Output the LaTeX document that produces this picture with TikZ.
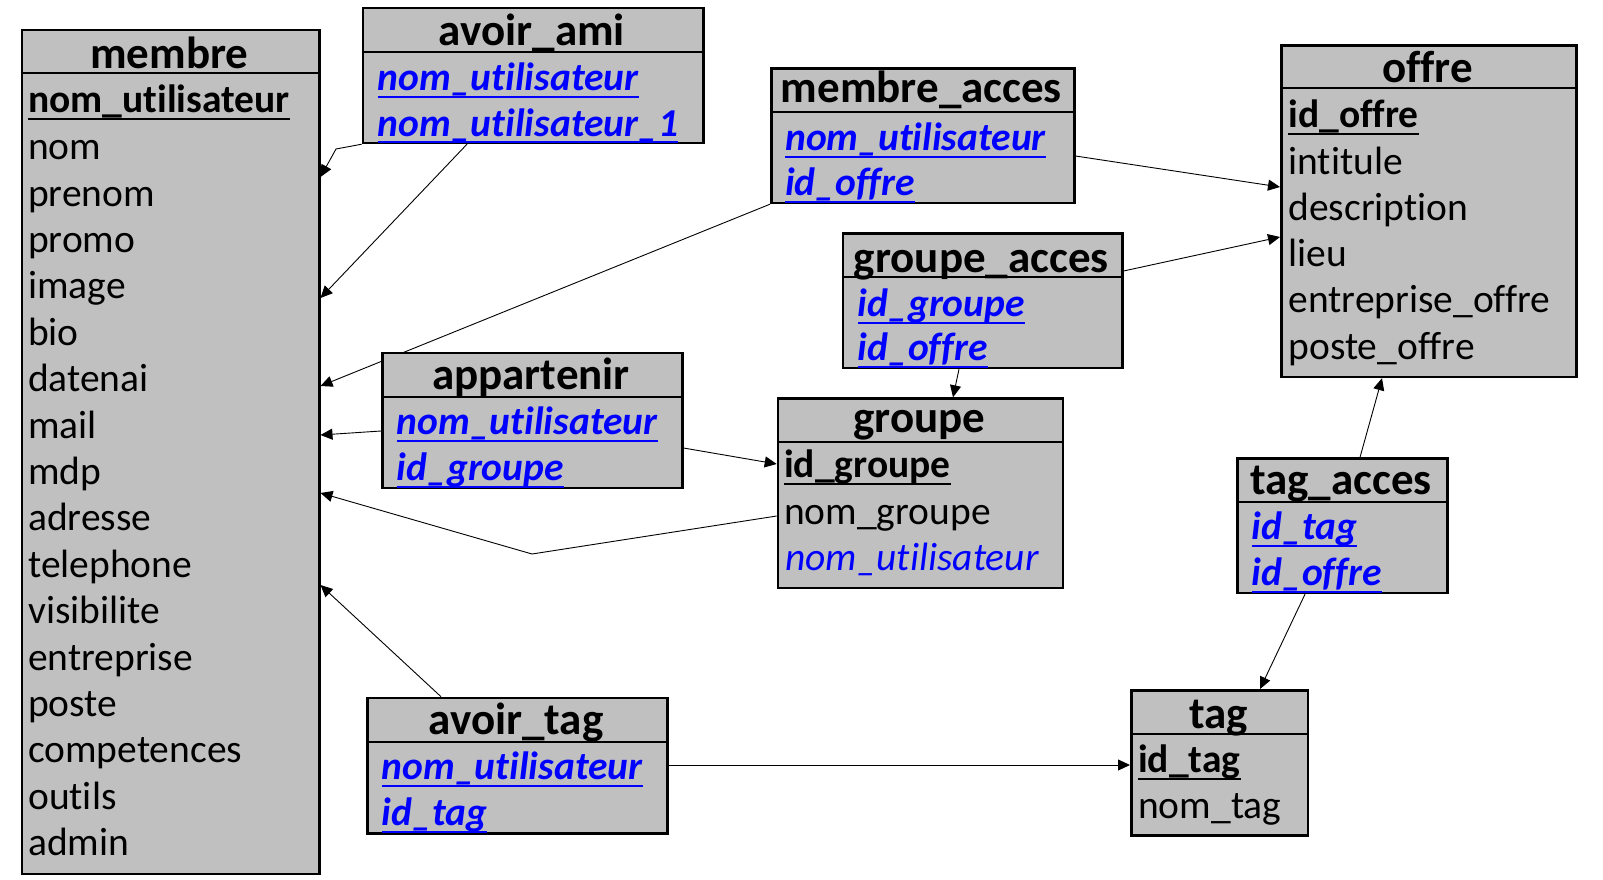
\documentclass[tikz,border=0pt]{standalone}
\usepackage{fontspec}
\setmainfont{Carlito}[RawFeature={-liga}]
\usetikzlibrary{arrows.meta,backgrounds}
\definecolor{boxgray}{RGB}{192,192,192}
\definecolor{keyblue}{RGB}{0,0,255}
\tikzset{
  tbl/.style={draw=black, line width=2.5pt, fill=boxgray, anchor=north west, inner sep=0pt},
  ttl/.style={font=\fontsize{45}{50}\selectfont\bfseries, anchor=base, inner sep=0pt},
  fld/.style={font=\fontsize{39.5}{46}\selectfont, anchor=base west, inner sep=0pt},
  pk/.style={fld, font=\fontsize{39.5}{46}\selectfont\bfseries},
  fk/.style={fld, font=\fontsize{39.5}{46}\selectfont\bfseries\itshape, text=keyblue},
  fkplain/.style={fld, font=\fontsize{39.5}{46}\selectfont\itshape, text=keyblue},
  sepline/.style={line width=2pt},
  ulin/.style={line width=2pt},
  link/.style={line width=0.9pt, -{Triangle[length=12pt,width=11pt]}},
}
% name, left, top, right, bottom, header y, title, title baseline
\newcommand\dbbox[8]{%
  \node[tbl, minimum width={#4-#2}, minimum height={#5-#3}] (#1) at (#2,#3) {};
  \draw[sepline] (#1.west |- 0,#6) -- (#1.east |- 0,#6);
  \node[ttl] (#1-t) at ({(#2+#4)/2},#8) {#7};
}
\newcommand\ulk[2]{\draw[ulin,#2] ([yshift=-6.5pt]#1.base west) -- ([yshift=-6.5pt]#1.base east);}
\begin{document}
\begin{tikzpicture}[x=1pt,y=-1pt]
\useasboundingbox (0,0) rectangle (1603,880);

% membre
\dbbox{membre}{20.7}{28.7}{318}{872.6}{73.3}{membre}{69}
\node[pk] (m0) at (28,113) {nom\_utilisateur}; \ulk{m0}{black}
\node[fld] (m1) at (28,159.6) {nom};
\node[fld] (m2) at (28,206) {prenom};
\node[fld] (m3) at (28,252.4) {promo};
\node[fld] (m4) at (28,298.8) {image};
\node[fld] (m5) at (28,345.2) {bio};
\node[fld] (m6) at (28,391.6) {datenai};
\node[fld] (m7) at (28,438) {mail};
\node[fld] (m8) at (28,484.4) {mdp};
\node[fld] (m9) at (28,530.8) {adresse};
\node[fld] (m10) at (28,577.2) {telephone};
\node[fld] (m11) at (28,623.6) {visibilite};
\node[fld] (m12) at (28,670) {entreprise};
\node[fld] (m13) at (28,716.4) {poste};
\node[fld] (m14) at (28,762.8) {competences};
\node[fld] (m15) at (28,809.2) {outils};
\node[fld] (m16) at (28,855.6) {admin};

% avoir_ami
\dbbox{avoirami}{361.7}{6.7}{702}{141.7}{51.7}{avoir\_ami}{46}
\node[fk] (aa1) at (377.7,91) {nom\_utilisateur}; \ulk{aa1}{keyblue}
\node[fk] (aa2) at (377.7,136) {nom\_utilisateur\_1}; \ulk{aa2}{keyblue}

% membre_acces
\dbbox{membreacces}{770}{67.3}{1073}{201.7}{111.7}{membre\_acces}{103}
\node[fk] (ma1) at (785,150.3) {nom\_utilisateur}; \ulk{ma1}{keyblue}
\node[fk] (ma2) at (785,195) {id\_offre}; \ulk{ma2}{keyblue}

% offre
\dbbox{offre}{1280}{44.3}{1575}{375.7}{87.7}{offre}{82.7}
\node[pk] (o0) at (1288.3,127.7) {id\_offre}; \ulk{o0}{black}
\node[fld] (o1) at (1288.3,174) {intitule};
\node[fld] (o2) at (1288.3,220.3) {description};
\node[fld] (o3) at (1288.3,266.6) {lieu};
\node[fld] (o4) at (1288.3,312.9) {entreprise\_offre};
\node[fld] (o5) at (1288.3,359.2) {poste\_offre};

% groupe_acces
\dbbox{groupeacces}{841.7}{232.3}{1121}{366.7}{277.3}{groupe\_acces}{272.7}
\node[fk] (ga1) at (857.7,316) {id\_groupe}; \ulk{ga1}{keyblue}
\node[fk] (ga2) at (857.7,360.5) {id\_offre}; \ulk{ga2}{keyblue}

% appartenir
\dbbox{appartenir}{381}{351.7}{681}{486.7}{396.7}{appartenir}{389.3}
\node[fk] (ap1) at (396.7,434.3) {nom\_utilisateur}; \ulk{ap1}{keyblue}
\node[fk] (ap2) at (396.7,480) {id\_groupe}; \ulk{ap2}{keyblue}

% groupe
\dbbox{groupe}{776.7}{397.3}{1061.7}{586.7}{441.7}{groupe}{432.7}
\node[pk] (g0) at (784,477.7) {id\_groupe}; \ulk{g0}{black}
\node[fld] (g1) at (784,524) {nom\_groupe};
\node[fkplain] (g2) at (785,570.5) {nom\_utilisateur};

% tag_acces
\dbbox{tagacces}{1236}{457.3}{1446}{591.7}{502.3}{tag\_acces}{494.3}
\node[fk] (ta1) at (1251.7,539.3) {id\_tag}; \ulk{ta1}{keyblue}
\node[fk] (ta2) at (1251.7,585) {id\_offre}; \ulk{ta2}{keyblue}

% avoir_tag
\dbbox{avoirtag}{366}{696.7}{666}{832}{741.7}{avoir\_tag}{734.3}
\node[fk] (at1) at (381.7,779.3) {nom\_utilisateur}; \ulk{at1}{keyblue}
\node[fk] (at2) at (381.7,825) {id\_tag}; \ulk{at2}{keyblue}

% tag
\dbbox{tag}{1130}{689}{1306.7}{834.3}{734}{tag}{728}
\node[pk] (t0) at (1138,772) {id\_tag}; \ulk{t0}{black}
\node[fld] (t1) at (1138,818) {nom\_tag};

% connectors
\begin{scope}[on background layer]
\draw[link] (avoirami.south west) -- (336,149) -- (membre.east |- 0,177);
\draw[link] (avoirami.south -| 467,0) -- (membre.east |- 0,298);
\draw[link] (membreacces.south west) -- (membre.east |- 0,386);
\draw[link] (membreacces.east |- 0,156) -- (offre.west |- 0,187);
\draw[link] (groupeacces.east |- 0,271) -- (offre.west |- 0,237);
\draw[link] (groupeacces.south -| 959,0) -- (groupe.north -| 953,0);
\draw[link] (appartenir.west |- 0,431) -- (membre.east |- 0,435);
\draw[link] (appartenir.east |- 0,448) -- (groupe.west |- 0,464);
\draw[link] (groupe.west |- 0,516) -- (532,554) -- (membre.east |- 0,493);
\draw[link] (avoirtag.north -| 441,0) -- (membre.east |- 0,585);
\draw[link] (avoirtag.east |- 0,765) -- (tag.west |- 0,765);
\draw[link] (tagacces.north -| 1360,0) -- (offre.south -| 1382,0);
\draw[link] (tagacces.south -| 1305,0) -- (tag.north -| 1260,0);
\end{scope}
\end{tikzpicture}
\end{document}
